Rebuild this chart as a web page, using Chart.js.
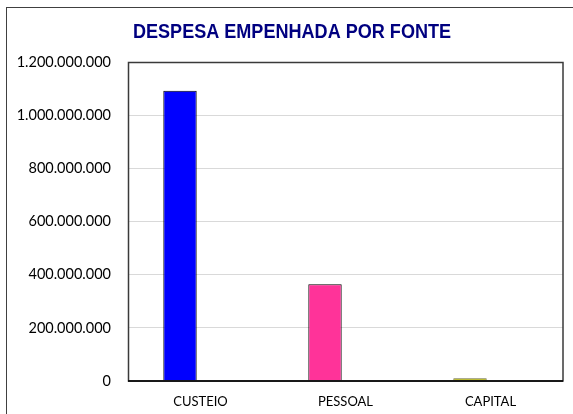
<!DOCTYPE html>
<html>
<head>
<meta charset="utf-8">
<script src="https://cdn.jsdelivr.net/npm/chart.js@4/dist/chart.umd.min.js"></script>
<style>
  html, body { margin: 0; overflow: hidden; background: #fff; }
  #graphCanvas { display: block; }
</style>
</head>
<body>
<canvas id="graphCanvas" width="573" height="414"></canvas>
<script>
var chartTitle = 'DESPESA EMPENHADA POR FONTE';
var categories = ['CUSTEIO', 'PESSOAL', 'CAPITAL'];
var despesa = [1092000000, 364000000, 10000000];
var vazio = [null, null, null];
var barColors = ['#0000FF', '#FF3399', '#B3B300'];
var barBorders = ['#000000', '#000000', '#6b6b3a'];
var yTicks = [0, 200000000, 400000000, 600000000, 800000000, 1000000000, 1200000000];

function formatNumber(v)
{
    return String(v).replace(/\B(?=(\d{3})+(?!\d))/g, '.');
}

// moldura externa, moldura da área de plotagem e título estreito
var decor = {
    id: 'decor',
    beforeDraw: function (chart) {
        var ctx = chart.ctx;
        ctx.save();
        ctx.strokeStyle = '#404040';
        ctx.lineWidth = 1;
        ctx.strokeRect(6.5, 7.5, 800, 600);
        ctx.restore();
    },
    afterDraw: function (chart) {
        var a = chart.chartArea;
        var ctx = chart.ctx;
        ctx.save();
        ctx.strokeStyle = '#3a3a3a';
        ctx.lineWidth = 1.5;
        ctx.strokeRect(a.left + 0.5, a.top + 0.5, a.right - a.left - 0.5, a.bottom - a.top - 0.5);
        ctx.strokeStyle = '#000';
        ctx.beginPath();
        ctx.moveTo(a.left, a.bottom);
        ctx.lineTo(a.right, a.bottom);
        ctx.stroke();

        // título em fonte condensada (tipo Arial Narrow)
        ctx.fillStyle = '#000080';
        ctx.font = 'bold 21px "Liberation Sans", Arial, sans-serif';
        ctx.textAlign = 'center';
        ctx.textBaseline = 'middle';
        ctx.translate(292, 32);
        ctx.scale(0.86, 1);
        ctx.fillText(chartTitle, 0, 0);
        ctx.restore();
    }
};

Chart.defaults.font.family = 'Lato, sans-serif';
Chart.defaults.color = '#000';

new Chart(document.getElementById('graphCanvas'), {
    type: 'bar',
    data: {
        labels: categories,
        datasets: [
            {
                label: 'Despesa',
                data: despesa,
                backgroundColor: barColors,
                borderColor: barBorders,
                borderWidth: 1,
                categoryPercentage: 0.5655,
                barPercentage: 0.815
            },
            {
                label: '',
                data: vazio,
                categoryPercentage: 0.5655,
                barPercentage: 0.815
            }
        ]
    },
    options: {
        responsive: false,
        animation: false,
        devicePixelRatio: 1,
        layout: { padding: { left: 0, right: 10, top: 62, bottom: 0 } },
        plugins: {
            legend: { display: false },
            tooltip: { enabled: false },
            title: { display: false }
        },
        scales: {
            x: {
                grid: { display: false, drawTicks: false },
                border: { display: false },
                ticks: { padding: 13, font: { size: 13 }, color: '#000' },
                afterFit: function (scale) { scale.height = 33; }
            },
            y: {
                min: 0,
                max: 1200000000,
                afterBuildTicks: function (scale) {
                    scale.ticks = yTicks.map(function (v) { return { value: v }; });
                },
                grid: { color: '#D9D9D9', drawTicks: false },
                border: { display: false },
                ticks: {
                    padding: 17,
                    font: { size: 14.5 },
                    color: '#000',
                    callback: function (v) { return formatNumber(v); }
                },
                afterFit: function (scale) { scale.width = 128; }
            }
        }
    },
    plugins: [decor]
});
</script>
</body>
</html>
